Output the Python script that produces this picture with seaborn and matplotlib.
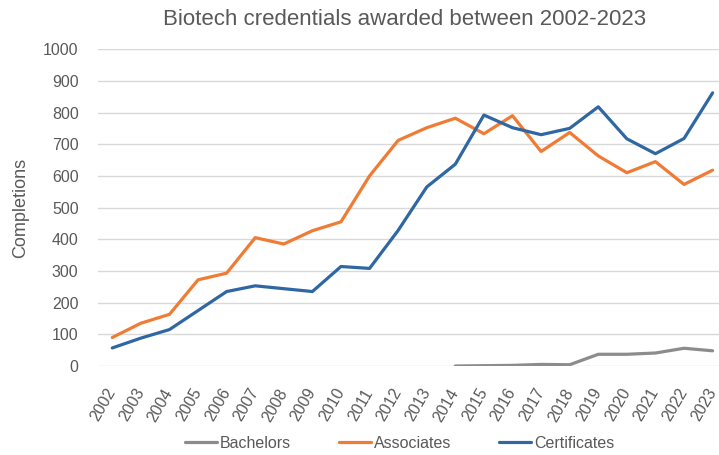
import pandas as pd
import numpy as np
import matplotlib.pyplot as plt
import seaborn as sns

# Data
years = list(range(2002, 2024))
bachelors = [np.nan] * 12 + [0, 1, 2, 5, 4, 37, 37, 41, 56, 48]
associates = [90, 135, 163, 272, 293, 405, 385, 427, 455, 600, 712,
              752, 782, 733, 790, 677, 737, 663, 610, 645, 573, 618]
certificates = [57, 88, 115, 175, 235, 253, 244, 235, 314, 308, 428,
                565, 637, 792, 752, 730, 750, 818, 717, 670, 718, 862]

df = pd.DataFrame({"Year": years, "Bachelors": bachelors,
                   "Associates": associates, "Certificates": certificates})
long_df = df.melt(id_vars="Year", var_name="Credential", value_name="Completions")

sns.set_style("white")
plt.rcParams['font.family'] = ['Liberation Sans', 'DejaVu Sans']
text_col = "#595959"

fig = plt.figure(figsize=(7.19, 4.55), dpi=100)
ax = fig.add_axes([0.1363, 0.1956, 0.8747, 0.6964])

palette = {"Bachelors": "#8C8C8C", "Associates": "#F07B35", "Certificates": "#2E67A3"}
sns.lineplot(data=long_df, x="Year", y="Completions", hue="Credential",
             palette=palette, linewidth=2.3, ax=ax)

ax.set_xlim(2001.5, 2023.5)
ax.set_ylim(0, 1000)
ax.set_yticks(range(0, 1001, 100))
ax.set_xticks(years)
ax.set_xticklabels([str(y) for y in years], rotation=60, ha="right", va="center",
                   rotation_mode="anchor", fontsize=11.5, color=text_col)
ax.tick_params(axis="y", labelsize=11.5, labelcolor=text_col, length=0, pad=14)
ax.tick_params(axis="x", length=0, pad=17)
ax.yaxis.grid(True, color="#D9D9D9", linewidth=1)
ax.set_axisbelow(True)
for s in ax.spines.values():
    s.set_visible(False)

ax.set_xlabel("")
ax.set_ylabel("Completions", fontsize=13, color=text_col, labelpad=10)

fig.text(0.562, 0.958, "Biotech credentials awarded between 2002-2023",
         ha="center", va="center", fontsize=16, color=text_col)

ax.legend(handles=ax.get_legend().legend_handles, labels=["Bachelors", "Associates", "Certificates"],
          loc="center", bbox_to_anchor=(0.556, 0.026), bbox_transform=fig.transFigure,
          ncol=3, frameon=False, fontsize=11.5, handlelength=2.0, handletextpad=0.2,
          columnspacing=3.0, labelcolor=text_col)

fig.savefig("out.png", dpi=100)
